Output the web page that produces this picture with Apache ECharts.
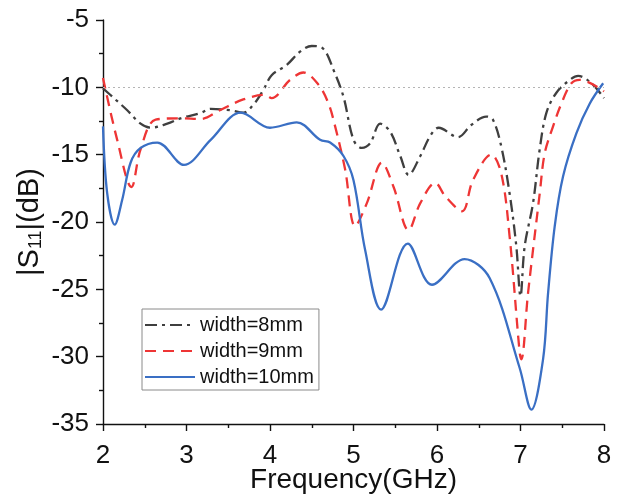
<!DOCTYPE html>
<html>
<head>
<meta charset="utf-8">
<script src="https://cdn.jsdelivr.net/npm/echarts@6/dist/echarts.min.js"></script>
<style>
  html, body { margin: 0; padding: 0; background: #fff; }
  #chart { width: 623px; height: 495px; }
</style>
</head>
<body>
<div id="chart"></div>
<script>
// Return loss |S11| (dB) vs frequency (GHz) for three patch widths
const xTicks = [2, 3, 4, 5, 6, 7, 8];
const yTicks = [-35, -30, -25, -20, -15, -10, -5];

const seriesNames = ['width=8mm', 'width=9mm', 'width=10mm'];

const width8 = [
  [2.00, -10.07], [2.13, -10.8], [2.29, -11.7], [2.45, -12.7], [2.57, -13.0],
  [2.77, -12.7], [2.93, -12.3], [3.17, -11.9], [3.29, -11.6], [3.52, -11.7],
  [3.68, -11.88], [3.80, -11.3], [3.92, -10.2], [4.02, -9.1], [4.20, -8.34],
  [4.36, -7.35], [4.50, -6.93], [4.64, -7.15], [4.76, -8.7], [4.88, -10.7],
  [5.00, -13.9], [5.10, -14.5], [5.20, -14.15], [5.32, -12.7], [5.44, -13.3],
  [5.56, -15.1], [5.66, -16.5], [5.80, -15.1], [5.92, -13.6], [6.02, -13.0],
  [6.25, -13.7], [6.41, -12.8], [6.59, -12.17], [6.67, -12.4], [6.77, -14.4],
  [6.87, -17.9], [6.95, -21.8], [7.00, -25.5], [7.05, -21.8], [7.15, -18.6],
  [7.23, -14.6], [7.31, -11.9], [7.43, -10.4], [7.59, -9.45], [7.69, -9.15],
  [7.85, -9.7], [8.00, -10.8]
];

const width9 = [
  [2.00, -9.3], [2.17, -13.9], [2.34, -17.4], [2.45, -14.6], [2.63, -12.4],
  [2.93, -12.3], [3.17, -12.35], [3.40, -11.7], [3.68, -10.9], [3.94, -10.56],
  [4.02, -10.8], [4.24, -9.45], [4.40, -8.9], [4.58, -9.8], [4.70, -11.2],
  [4.78, -12.9], [4.90, -16.1], [5.02, -20.3], [5.16, -18.6], [5.34, -15.6],
  [5.48, -17.4], [5.66, -20.6], [5.80, -18.6], [5.98, -17.1], [6.10, -18.1],
  [6.30, -19.2], [6.43, -16.9], [6.65, -15.0], [6.77, -16.4], [6.87, -21.1],
  [6.99, -29.7], [7.01, -30.2], [7.09, -25.3], [7.23, -17.9], [7.29, -14.9],
  [7.39, -12.9], [7.49, -11.2], [7.61, -9.7], [7.71, -9.45], [8.00, -10.3]
];

const width10 = [
  [2.00, -12.9], [2.05, -17.86], [2.14, -20.2], [2.23, -18.35], [2.33, -15.6],
  [2.45, -14.5], [2.65, -14.1], [2.97, -15.76], [3.29, -13.9], [3.65, -11.88],
  [4.00, -13.0], [4.32, -12.6], [4.60, -13.9], [4.72, -14.1], [4.88, -15.1],
  [5.00, -16.9], [5.14, -22.1], [5.33, -26.5], [5.65, -21.6], [5.94, -24.66],
  [6.33, -22.75], [6.63, -24.16], [6.99, -30.84], [7.13, -33.93], [7.27, -30.2],
  [7.33, -25.3], [7.41, -20.3], [7.51, -16.6], [7.67, -13.4], [7.83, -11.2],
  [7.99, -9.7]
];

const refLevel = -10;

const font = 'Liberation Sans, Arial, sans-serif';
const chart = echarts.init(document.getElementById('chart'), null, { renderer: 'canvas' });

function lineSeries(name, data, color, type) {
  return {
    name: name,
    type: 'line',
    data: data,
    smooth: 0.35,
    showSymbol: false,
    symbol: 'none',
    lineStyle: { color: color, width: 2.3, type: type },
    itemStyle: { color: color },
    z: 3
  };
}

const axisCommon = {
  axisLine: { show: true, lineStyle: { color: '#111', width: 1.4 } },
  axisTick: { show: true, inside: false, length: 7, lineStyle: { color: '#111', width: 1.4 } },
  minorTick: { show: true, splitNumber: 2, length: 4, lineStyle: { color: '#111', width: 1.4 } },
  splitLine: { show: false },
  nameMoveOverlap: false
};

chart.setOption({
  animation: false,
  backgroundColor: '#fff',
  grid: { left: 103, right: 19, top: 20, bottom: 71, containLabel: false, outerBoundsMode: 'none' },
  legend: {
    left: 142, top: 309,
    orient: 'vertical',
    itemWidth: 50, itemHeight: 14, itemGap: 6,
    padding: [6, 5, 3, 2],
    borderColor: '#8a8a8a', borderWidth: 1, borderRadius: 0,
    itemStyle: { opacity: 0 },
    textStyle: { fontFamily: font, fontSize: 20, color: '#111' },
    data: seriesNames
  },
  xAxis: Object.assign({
    type: 'value',
    min: xTicks[0], max: xTicks[xTicks.length - 1], interval: 1,
    name: 'Frequency(GHz)',
    nameLocation: 'middle', nameGap: 42,
    nameTextStyle: { fontFamily: font, fontSize: 28, color: '#111' },
    axisLabel: { fontFamily: font, fontSize: 26, color: '#111', margin: 19 }
  }, axisCommon),
  yAxis: Object.assign({
    type: 'value',
    min: yTicks[0], max: yTicks[yTicks.length - 1], interval: 5,
    name: '|S{sub|11}|(dB)',
    nameLocation: 'middle', nameGap: 58, nameRotate: 90,
    nameTextStyle: {
      fontFamily: font, fontSize: 29, color: '#111',
      rich: { sub: { fontFamily: font, fontSize: 18, color: '#111', verticalAlign: 'bottom', padding: [12, 0, 0, 0] } }
    },
    axisLabel: { fontFamily: font, fontSize: 26, color: '#111', margin: 14 }
  }, axisCommon),
  series: [
    Object.assign(lineSeries(seriesNames[0], width8, '#3f3f3f', [12, 5, 3, 5]), {
      markLine: {
        silent: true, symbol: 'none', label: { show: false },
        lineStyle: { color: '#b5b5b5', type: [2, 3], width: 1.2 },
        data: [{ yAxis: refLevel }]
      }
    }),
    lineSeries(seriesNames[1], width9, '#ee3535', [11, 7]),
    lineSeries(seriesNames[2], width10, '#3a6fc4', 'solid')
  ]
});
</script>
</body>
</html>
